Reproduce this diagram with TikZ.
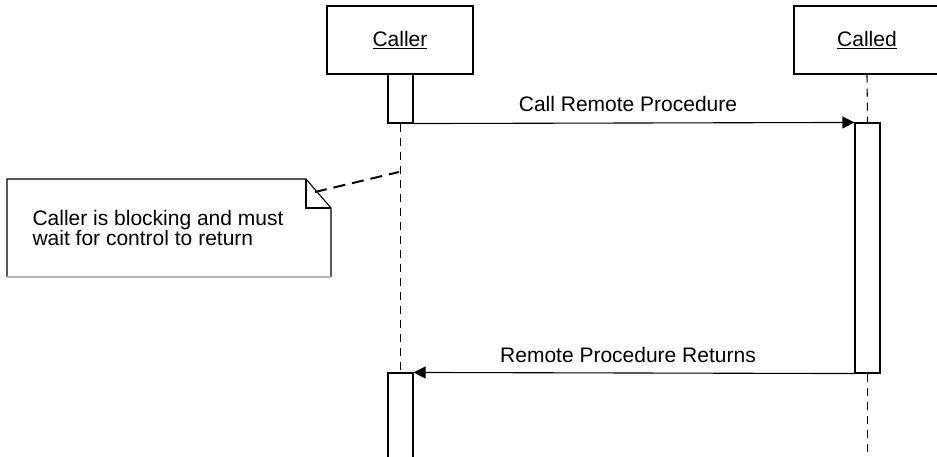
\documentclass[tikz,border=0pt]{standalone}
\usepackage{fontspec}
\setmainfont{Liberation Sans}
\usetikzlibrary{arrows.meta}
\begin{document}
\begin{tikzpicture}[x=1pt,y=-1pt,line width=1.1pt,font=\fontsize{21}{20}\selectfont]
\tikzstyle{object}=[draw,minimum width=146pt,minimum height=68pt,inner sep=0pt]
\tikzstyle{activation}=[draw,fill=white,minimum width=25pt,inner sep=0pt]
\tikzstyle{lifeline}=[dash pattern=on 8pt off 6pt]
\tikzstyle{message}=[-{Triangle[length=12pt,width=12pt]}]
\tikzstyle{msglabel}=[inner sep=0pt]
\tikzstyle{comment}=[line width=2pt,dash pattern=on 12pt off 7pt]
\tikzstyle{notetext}=[inner sep=0pt,align=left,anchor=west]
\useasboundingbox (0,0) rectangle (937,457);
\clip (0,0) rectangle (937,457);
% objects
\node[object] (caller) at (400,40) {\underline{Caller}};
\node[object] (called) at (867,40) {\underline{Called}};
% activations
\node[activation,minimum height=49pt] (callerbar) at (400.5,98.5) {};
\node[activation,minimum height=250pt] (calledbar) at (867.5,248) {};
\node[activation,minimum height=97pt] (returnbar) at (400.5,421.5) {};
\coordinate (calledend) at (867.5,470);
% lifelines
\draw[lifeline] (callerbar.south) -- (returnbar.north);
\draw[lifeline] (called.south) -- (calledbar.north);
\draw[lifeline] (calledbar.south) -- (calledend);
% messages
\draw[message] (callerbar.south east) -- (calledbar.north west);
\node[msglabel] (calltext) at (628,103.5) {Call Remote Procedure};
\draw[message] (calledbar.south west) -- (returnbar.north east);
\node[msglabel] (returntext) at (628,354.5) {Remote Procedure Returns};
% note
\draw[fill=white] (331,277) -- (331,208) -- (306,179) -- (7,179) -- (7,277);
\draw (306,179) -- (306,208) -- (331,208);
\draw[gray!60,line width=2pt] (7,277) -- (331,277);
\node[notetext] (notetext) at (32,228) {Caller is blocking and must\\wait for control to return};
\coordinate (notecorner) at (315,192);
\coordinate (blockpoint) at (399,172);
\draw[comment] (notecorner) -- (blockpoint);
\end{tikzpicture}
\end{document}
